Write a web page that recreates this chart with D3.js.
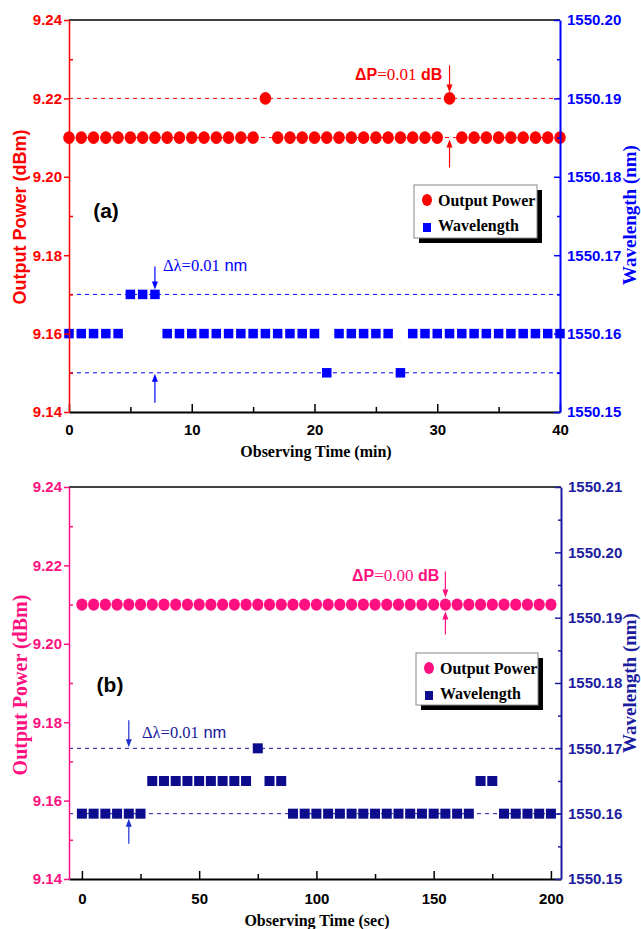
<!DOCTYPE html>
<html lang="en">
<head>
<meta charset="utf-8">
<title>Output power and wavelength stability</title>
<script src="https://d3js.org/d3.v7.min.js"></script>
<style>
  body { margin: 0; background: #fff; }
  .tick text { font-family: "Liberation Sans", Arial, sans-serif; font-weight: bold; font-size: 15px; }
  .serif { font-family: "Liberation Serif", "Times New Roman", serif; font-weight: bold; }
  .sans { font-family: "Liberation Sans", Arial, sans-serif; font-weight: bold; }
</style>
</head>
<body>
<script>
// ---- panel (a): one reading per minute ----
const timeA = [0,1,2,3,4,5,6,7,8,9,10,11,12,13,14,15,16,17,18,19,20,
               21,22,23,24,25,26,27,28,29,30,31,32,33,34,35,36,37,38,39,40];
const powerA = [9.21,9.21,9.21,9.21,9.21,9.21,9.21,9.21,9.21,9.21,9.21,9.21,9.21,9.21,9.21,9.21,
                9.22,
                9.21,9.21,9.21,9.21,9.21,9.21,9.21,9.21,9.21,9.21,9.21,9.21,9.21,9.21,
                9.22,
                9.21,9.21,9.21,9.21,9.21,9.21,9.21,9.21,9.21];
const waveA = [1550.16,1550.16,1550.16,1550.16,1550.16,
               1550.165,1550.165,1550.165,
               1550.16,1550.16,1550.16,1550.16,1550.16,1550.16,1550.16,1550.16,1550.16,1550.16,1550.16,1550.16,1550.16,
               1550.155,
               1550.16,1550.16,1550.16,1550.16,1550.16,
               1550.155,
               1550.16,1550.16,1550.16,1550.16,1550.16,1550.16,1550.16,1550.16,1550.16,1550.16,1550.16,1550.16,1550.16];

// ---- panel (b): one reading every 5 s ----
const timeB = [0,5,10,15,20,25,30,35,40,45,50,55,60,65,70,75,80,85,90,95,100,
               105,110,115,120,125,130,135,140,145,150,155,160,165,170,175,180,185,190,195,200];
const powerB = [9.21,9.21,9.21,9.21,9.21,9.21,9.21,9.21,9.21,9.21,9.21,9.21,9.21,9.21,9.21,9.21,9.21,9.21,9.21,9.21,9.21,
                9.21,9.21,9.21,9.21,9.21,9.21,9.21,9.21,9.21,9.21,9.21,9.21,9.21,9.21,9.21,9.21,9.21,9.21,9.21,9.21];
const waveB = [1550.16,1550.16,1550.16,1550.16,1550.16,1550.16,
               1550.165,1550.165,1550.165,1550.165,1550.165,1550.165,1550.165,1550.165,1550.165,
               1550.17,
               1550.165,1550.165,
               1550.16,1550.16,1550.16,1550.16,1550.16,1550.16,1550.16,1550.16,
               1550.16,1550.16,1550.16,1550.16,1550.16,1550.16,1550.16,1550.16,
               1550.165,1550.165,
               1550.16,1550.16,1550.16,1550.16,1550.16];

// ---- ticks ----
const powerTicks = [9.14, 9.16, 9.18, 9.20, 9.22, 9.24];
const powerMinor = [9.15, 9.17, 9.19, 9.21, 9.23];
const waveTicksA = [1550.15, 1550.16, 1550.17, 1550.18, 1550.19, 1550.20];
const waveMinorA = [1550.155, 1550.165, 1550.175, 1550.185, 1550.195];
const waveTicksB = [1550.15, 1550.16, 1550.17, 1550.18, 1550.19, 1550.20, 1550.21];
const waveMinorB = [1550.155, 1550.165, 1550.175, 1550.185, 1550.195, 1550.205];
const timeTicksA = [0, 10, 20, 30, 40];
const timeMinorA = [5, 15, 25, 35];
const timeTicksB = [0, 50, 100, 150, 200];
const timeMinorB = [25, 75, 125, 175];

const SANS = '"Liberation Sans", Arial, sans-serif';
const SERIF = '"Liberation Serif", "Times New Roman", serif';

const w = 641, h = 929;
const svg = d3.select("body").append("svg")
    .attr("width", w).attr("height", h);

function arrow(g, x, yFrom, yTip, color) {
    const dir = yTip > yFrom ? 1 : -1;
    g.append("line")
        .attr("x1", x).attr("x2", x)
        .attr("y1", yFrom).attr("y2", yTip - dir * 6)
        .attr("stroke", color).attr("stroke-width", 1.2);
    g.append("path")
        .attr("d", `M${x - 3},${yTip - dir * 8}L${x + 3},${yTip - dir * 8}L${x},${yTip}Z`)
        .attr("fill", color);
}

function panel(cfg) {
    const g = svg.append("g");
    const x = d3.scaleLinear().domain(cfg.xDomain).range([cfg.left, cfg.right]);
    const yP = d3.scaleLinear().domain([9.14, 9.24]).range([cfg.bottom, cfg.top]);
    const yW = d3.scaleLinear().domain(cfg.wDomain).range([cfg.bottom, cfg.top]);

    // dashed reference levels
    cfg.powerRefs.forEach(v => {
        g.append("line")
            .attr("x1", cfg.left).attr("x2", cfg.right)
            .attr("y1", yP(v)).attr("y2", yP(v))
            .attr("stroke", cfg.pColor).attr("stroke-dasharray", "4,4");
    });
    cfg.waveRefs.forEach(v => {
        g.append("line")
            .attr("x1", cfg.left).attr("x2", cfg.right)
            .attr("y1", yW(v)).attr("y2", yW(v))
            .attr("stroke", cfg.refColor).attr("stroke-dasharray", "4,4");
    });

    // output power points
    g.selectAll(".pw")
        .data(d3.zip(cfg.time, cfg.power))
        .join("ellipse")
        .attr("cx", d => x(d[0]))
        .attr("cy", d => yP(d[1]))
        .attr("rx", cfg.r).attr("ry", cfg.r + 0.5)
        .attr("fill", cfg.pColor);

    // wavelength points
    g.selectAll(".wl")
        .data(d3.zip(cfg.time, cfg.wave))
        .join("rect")
        .attr("x", d => x(d[0]) - cfg.s / 2)
        .attr("y", d => yW(d[1]) - cfg.s / 2)
        .attr("width", cfg.s).attr("height", cfg.s)
        .attr("fill", cfg.wColor);

    // frame top
    g.append("line")
        .attr("x1", cfg.left).attr("x2", cfg.right)
        .attr("y1", cfg.top).attr("y2", cfg.top)
        .attr("stroke", "#000").attr("stroke-width", 1.5);

    // bottom axis
    const bx = g.append("g")
        .attr("transform", `translate(0,${cfg.bottom})`)
        .call(d3.axisBottom(x).tickValues(cfg.xTicks).tickSizeInner(-8).tickSizeOuter(0)
            .tickPadding(cfg.xPad).tickFormat(d3.format("d")));
    g.append("g")
        .attr("transform", `translate(0,${cfg.bottom})`)
        .call(d3.axisBottom(x).tickValues(cfg.xMinor).tickSize(-5).tickFormat(""))
        .call(a => a.select(".domain").remove());
    bx.select(".domain").attr("stroke-width", 2);
    g.selectAll(".tick line").attr("stroke-width", 1.5);

    // left axis (power)
    const ly = g.append("g")
        .attr("transform", `translate(${cfg.left},0)`)
        .call(d3.axisLeft(yP).tickValues(powerTicks).tickSizeInner(5).tickSizeOuter(0)
            .tickPadding(2).tickFormat(d3.format(".2f")));
    g.append("g")
        .attr("transform", `translate(${cfg.left},0)`)
        .call(d3.axisLeft(yP).tickValues(powerMinor).tickSize(-4).tickFormat(""))
        .call(a => a.select(".domain").remove())
        .selectAll("line").attr("stroke", cfg.pColor).attr("stroke-width", 1.5);
    ly.select(".domain").attr("stroke", cfg.pColor).attr("stroke-width", 1.5);
    ly.selectAll(".tick line").attr("stroke", cfg.pColor).attr("stroke-width", 1.5);
    ly.selectAll(".tick text").attr("fill", cfg.pColor);

    // right axis (wavelength)
    const ry = g.append("g")
        .attr("transform", `translate(${cfg.right},0)`)
        .call(d3.axisRight(yW).tickValues(cfg.wTicks).tickSizeInner(-6).tickSizeOuter(0)
            .tickPadding(7).tickFormat(d3.format(".2f")));
    g.append("g")
        .attr("transform", `translate(${cfg.right},0)`)
        .call(d3.axisRight(yW).tickValues(cfg.wMinor).tickSize(-3).tickFormat(""))
        .call(a => a.select(".domain").remove())
        .selectAll("line").attr("stroke", cfg.axColor).attr("stroke-width", 1.5);
    ry.select(".domain").attr("stroke", cfg.axColor).attr("stroke-width", 2);
    ry.selectAll(".tick line").attr("stroke", cfg.axColor).attr("stroke-width", 1.5);
    ry.selectAll(".tick text").attr("fill", cfg.axColor);

    // axis titles
    g.append("text")
        .attr("class", cfg.leftTitleClass)
        .attr("transform", `translate(${cfg.leftTitle[0]},${cfg.leftTitle[1]}) rotate(-90)`)
        .attr("text-anchor", "middle").attr("dy", "0.35em")
        .attr("font-size", cfg.leftTitleSize)
        .attr("fill", cfg.pColor)
        .text("Output Power (dBm)");
    g.append("text")
        .attr("class", "serif")
        .attr("transform", `translate(${cfg.rightTitle[0]},${cfg.rightTitle[1]}) rotate(-90)`)
        .attr("text-anchor", "middle").attr("dy", "0.3em")
        .attr("font-size", 19)
        .attr("fill", cfg.axColor)
        .text("Wavelength (nm)");
    g.append("text")
        .attr("class", "serif")
        .attr("x", cfg.xTitle[0]).attr("y", cfg.xTitle[1])
        .attr("text-anchor", "middle")
        .attr("font-size", 16)
        .attr("fill", "#000")
        .text(cfg.xLabel);

    // panel label
    g.append("text")
        .attr("class", "sans")
        .attr("x", cfg.tag[0]).attr("y", cfg.tag[1])
        .attr("text-anchor", "middle")
        .attr("font-size", 21)
        .text(cfg.tagText);

    // power annotation
    const pa = cfg.pAnn;
    arrow(g, x(pa.t), yP(pa.hi) - 33, yP(pa.hi) - pa.gapHi, cfg.pColor);
    arrow(g, x(pa.t), yP(pa.lo) + 30, yP(pa.lo) + pa.gapLo, cfg.pColor);
    const pt = g.append("text")
        .attr("x", pa.tx).attr("y", pa.ty)
        .style("font-size", "16px")
        .attr("fill", cfg.pColor);
    pt.append("tspan").style("font-family", SANS).style("font-weight", "bold").text("\u0394P");
    pt.append("tspan").style("font-family", SERIF).style("font-weight", "normal").style("font-size", "17px").text("=" + pa.value);
    pt.append("tspan").style("font-family", SANS).style("font-weight", "bold").text(" dB");

    // wavelength annotation
    const wa = cfg.wAnn;
    arrow(g, x(wa.t), yW(wa.hi) - 28, yW(wa.hi) - wa.gapHi, cfg.arrowColor);
    arrow(g, x(wa.t), yW(wa.lo) + 30, yW(wa.lo) + wa.gapLo, cfg.arrowColor);
    const wt = g.append("text")
        .attr("x", wa.tx).attr("y", wa.ty)
        .style("font-size", "16.5px")
        .attr("fill", cfg.refColor);
    wt.append("tspan").style("font-family", SERIF).style("font-weight", "normal").text("\u0394\u03bb=0.01");
    wt.append("tspan").style("font-family", SANS).style("font-weight", "normal").text(" nm");

    // legend
    const L = cfg.legend;
    g.append("rect")
        .attr("x", L.x + 5).attr("y", L.y + 5)
        .attr("width", L.w).attr("height", L.h)
        .attr("fill", "#000");
    g.append("rect")
        .attr("x", L.x).attr("y", L.y)
        .attr("width", L.w).attr("height", L.h)
        .attr("fill", "#fff").attr("stroke", "#888").attr("stroke-width", 1);
    g.append("ellipse")
        .attr("cx", L.x + 13).attr("cy", L.y + 15)
        .attr("rx", 5).attr("ry", 6)
        .attr("fill", cfg.pColor);
    g.append("rect")
        .attr("x", L.x + 9).attr("y", L.y + 38)
        .attr("width", 8).attr("height", 9)
        .attr("fill", cfg.wColor);
    g.append("text")
        .attr("class", "serif")
        .attr("x", L.x + 24).attr("y", L.y + 21)
        .attr("font-size", 16)
        .text("Output Power");
    g.append("text")
        .attr("class", "serif")
        .attr("x", L.x + 24).attr("y", L.y + 46)
        .attr("font-size", 16)
        .text("Wavelength");
}

panel({
    time: timeA, power: powerA, wave: waveA,
    xDomain: [0, 40], wDomain: [1550.15, 1550.20],
    left: 69, right: 560, top: 20, bottom: 412, xPad: 12,
    xTicks: timeTicksA, xMinor: timeMinorA,
    wTicks: waveTicksA, wMinor: waveMinorA,
    pColor: "#ff0000", wColor: "#0000ff", axColor: "#0000ff",
    refColor: "#0000ff", arrowColor: "#0000ff",
    r: 5.8, s: 9.5,
    powerRefs: [9.22, 9.21], waveRefs: [1550.165, 1550.155],
    leftTitle: [20, 217], leftTitleClass: "sans", leftTitleSize: 18,
    rightTitle: [630, 215],
    xTitle: [316, 457], xLabel: "Observing Time (min)",
    tag: [106, 218], tagText: "(a)",
    pAnn: { t: 31, hi: 9.22, lo: 9.21, gapHi: 6, gapLo: 2, tx: 355, ty: 80, value: "0.01" },
    wAnn: { t: 7, hi: 1550.165, lo: 1550.155, gapHi: 5, gapLo: 1, tx: 163, ty: 271 },
    legend: { x: 414, y: 185, w: 123, h: 53 }
});

panel({
    time: timeB, power: powerB, wave: waveB,
    xDomain: [-5.5, 204.3], wDomain: [1550.15, 1550.21],
    left: 69, right: 561, top: 487, bottom: 879, xPad: 14,
    xTicks: timeTicksB, xMinor: timeMinorB,
    wTicks: waveTicksB, wMinor: waveMinorB,
    pColor: "#ff1080", wColor: "#0c0c8c", axColor: "#1c1ca0",
    refColor: "#1a1a9c", arrowColor: "#2030d0",
    r: 5.6, s: 10,
    powerRefs: [], waveRefs: [1550.17, 1550.16],
    leftTitle: [20, 685], leftTitleClass: "serif", leftTitleSize: 20,
    rightTitle: [630, 683],
    xTitle: [317, 926], xLabel: "Observing Time (sec)",
    tag: [110, 692], tagText: "(b)",
    pAnn: { t: 155, hi: 9.21, lo: 9.21, gapHi: 7, gapLo: 7, tx: 352, ty: 581, value: "0.00" },
    wAnn: { t: 20, hi: 1550.17, lo: 1550.16, gapHi: 1, gapLo: 5, tx: 142, ty: 738 },
    legend: { x: 416, y: 653, w: 122, h: 52 }
});
</script>
</body>
</html>
